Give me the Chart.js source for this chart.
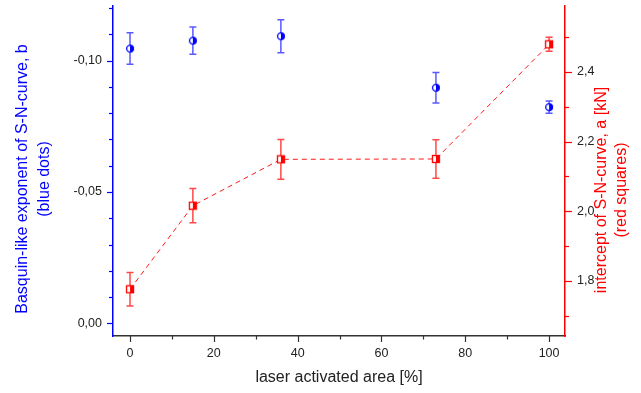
<!DOCTYPE html>
<html><head><meta charset="utf-8">
<script src="https://cdn.jsdelivr.net/npm/chart.js@4/dist/chart.umd.min.js"></script>
<style>html,body{margin:0;padding:0;background:#fff}#w{width:641px;height:393px;position:relative}</style>
</head><body><div id="w"><canvas id="c"></canvas></div>
<script>
// ---- data ----
const X = [0, 15, 36, 73, 100];
const B = [-0.1046, -0.1076, -0.1093, -0.0897, -0.0823];
const B_ERR = [0.0060, 0.0052, 0.0063, 0.0058, 0.0023];
const A = [1.776, 2.016, 2.149, 2.150, 2.479];
const A_ERR = [0.048, 0.049, 0.057, 0.055, 0.020];
const X_TICKS = [0, 20, 40, 60, 80, 100];
const X_MINOR = [10, 30, 50, 70, 90];
const L_TICKS = [-0.10, -0.05, 0.00];
const L_MINOR = [-0.12, -0.11, -0.09, -0.08, -0.07, -0.06, -0.04, -0.03, -0.02, -0.01];
const R_TICKS = [1.8, 2.0, 2.2, 2.4];
const R_MINOR = [1.7, 1.9, 2.1, 2.3, 2.5];
const X_TITLE = 'laser activated area [%]';
const L_TITLE = ['Basquin-like exponent of S-N-curve, b', '(blue dots)'];
const R_TITLE = ['intercept of S-N-curve, a [kN]', '(red squares)'];

const FONT = '"Liberation Sans", Arial, sans-serif';
const comma = v => v.replace('.', ',');

function mkCircle(){
  const c = document.createElement('canvas'); c.width = 10; c.height = 10;
  const g = c.getContext('2d');
  g.fillStyle = '#fff'; g.beginPath(); g.arc(5,5,3.4,0,Math.PI*2); g.fill();
  g.fillStyle = '#0000ff'; g.beginPath(); g.arc(5,5,3.6,-Math.PI/2,Math.PI/2); g.closePath(); g.fill();
  g.strokeStyle = '#0000ff'; g.lineWidth = 1.3; g.beginPath(); g.arc(5,5,3.4,0,Math.PI*2); g.stroke();
  return c;
}
function mkSquare(){
  const c = document.createElement('canvas'); c.width = 10; c.height = 10;
  const g = c.getContext('2d');
  g.fillStyle = '#fff'; g.fillRect(1.5,1.5,7,7);
  g.fillStyle = '#ff0000'; g.fillRect(5,1.5,3.5,7);
  g.strokeStyle = '#ff0000'; g.lineWidth = 1.3; g.strokeRect(1.5,1.5,7,7);
  return c;
}

const errPlugin = {
  id: 'err',
  beforeDatasetsDraw(chart){
    const ctx = chart.ctx, xs = chart.scales.x;
    const sets = [[chart.scales.yR, A, A_ERR, 'rgba(255,40,40,0.85)'], [chart.scales.yL, B, B_ERR, 'rgba(60,60,255,0.85)']];
    ctx.save(); ctx.lineWidth = 1.5;
    for (const [ys, vals, errs, col] of sets){
      ctx.strokeStyle = col;
      X.forEach((x,i)=>{
        const px = xs.getPixelForValue(x);
        const y1 = ys.getPixelForValue(vals[i]-errs[i]);
        const y2 = ys.getPixelForValue(vals[i]+errs[i]);
        ctx.beginPath();
        ctx.moveTo(px,y1); ctx.lineTo(px,y2);
        ctx.moveTo(px-3.5,y1); ctx.lineTo(px+3.5,y1);
        ctx.moveTo(px-3.5,y2); ctx.lineTo(px+3.5,y2);
        ctx.stroke();
      });
    }
    ctx.restore();
  }
};

const decoPlugin = {
  id: 'deco',
  afterDraw(chart){
    const ctx = chart.ctx, xs = chart.scales.x, yl = chart.scales.yL, yr = chart.scales.yR;
    const ca = chart.chartArea;
    ctx.save(); ctx.lineWidth = 1.2;
    ctx.strokeStyle = '#333';
    const tick = (x1,y1,x2,y2)=>{ctx.beginPath();ctx.moveTo(x1,y1);ctx.lineTo(x2,y2);ctx.stroke();};
    X_TICKS.forEach(v=>{const p=Math.round(xs.getPixelForValue(v))+0.5; tick(p,ca.bottom,p,ca.bottom+6);});
    X_MINOR.forEach(v=>{const p=Math.round(xs.getPixelForValue(v))+0.5; tick(p,ca.bottom,p,ca.bottom+3.5);});
    ctx.strokeStyle = '#0000ff';
    L_TICKS.forEach(v=>{const p=Math.round(yl.getPixelForValue(v))+0.5; tick(ca.left,p,ca.left-6,p);});
    L_MINOR.forEach(v=>{const p=Math.round(yl.getPixelForValue(v))+0.5; tick(ca.left,p,ca.left-4,p);});
    ctx.strokeStyle = '#ff0000';
    R_TICKS.forEach(v=>{const p=Math.round(yr.getPixelForValue(v))+0.5; tick(ca.right,p,ca.right+7,p);});
    R_MINOR.forEach(v=>{const p=Math.round(yr.getPixelForValue(v))+0.5; tick(ca.right,p,ca.right+4,p);});
    ctx.font = '16px ' + FONT;
    ctx.textAlign = 'center'; ctx.textBaseline = 'middle';
    ctx.fillStyle = '#222';
    ctx.fillText(X_TITLE, (ca.left+ca.right)/2, 378);
    ctx.fillStyle = '#0000ff';
    ctx.save(); ctx.translate(23,179); ctx.rotate(-Math.PI/2); ctx.fillText(L_TITLE[0],0,0); ctx.restore();
    ctx.save(); ctx.translate(45,179); ctx.rotate(-Math.PI/2); ctx.fillText(L_TITLE[1],0,0); ctx.restore();
    ctx.fillStyle = '#ff0000';
    ctx.save(); ctx.translate(602,190); ctx.rotate(-Math.PI/2); ctx.fillText(R_TITLE[0],0,0); ctx.restore();
    ctx.save(); ctx.translate(622,190); ctx.rotate(-Math.PI/2); ctx.fillText(R_TITLE[1],0,0); ctx.restore();
    ctx.restore();
  }
};

const noPad = s => { s.paddingTop = 0; s.paddingBottom = 0; s.paddingLeft = 0; s.paddingRight = 0; };
const tickFont = {family: FONT, size: 12.5};
new Chart(document.getElementById('c'), {
  type: 'scatter',
  data: {
    datasets: [
      {
        label: 'a', yAxisID: 'yR',
        data: X.map((x,i)=>({x, y: A[i]})),
        showLine: true, tension: 0,
        borderColor: 'rgba(255,0,0,0.9)', borderWidth: 1, borderDash: [5,4],
        pointStyle: mkSquare(), pointRadius: 5
      },
      {
        label: 'b', yAxisID: 'yL',
        data: X.map((x,i)=>({x, y: B[i]})),
        showLine: false,
        pointStyle: mkCircle(), pointRadius: 5
      }
    ]
  },
  options: {
    responsive: true, maintainAspectRatio: false, animation: false,
    layout: {padding: {top: 6, left: 0, right: 0, bottom: 0}},
    plugins: {legend: {display: false}, tooltip: {enabled: false}},
    scales: {
      x: {
        type: 'linear', position: 'bottom', min: -4.06, max: 103.8,
        afterFit: s => { s.height = 57; noPad(s); },
        afterBuildTicks: s => { s.ticks = X_TICKS.map(v=>({value: v})); },
        grid: {display: false, drawTicks: false},
        border: {display: true, color: '#333', width: 1.5},
        ticks: {font: tickFont, color: '#222', padding: 10, maxRotation: 0, callback: v => String(v)}
      },
      yL: {
        type: 'linear', position: 'left', reverse: true, min: -0.1208, max: 0.0048,
        afterFit: s => { s.width = 113; noPad(s); },
        afterBuildTicks: s => { s.ticks = L_TICKS.map(v=>({value: v})); },
        grid: {display: false, drawTicks: false},
        border: {display: true, color: '#0000ff', width: 1.5},
        ticks: {font: tickFont, color: '#222', padding: 11, callback: v => comma(v.toFixed(2))}
      },
      yR: {
        type: 'linear', position: 'right', min: 1.642, max: 2.589,
        afterFit: s => { s.width = 76; noPad(s); },
        afterBuildTicks: s => { s.ticks = R_TICKS.map(v=>({value: v})); },
        grid: {display: false, drawTicks: false},
        border: {display: true, color: '#ff0000', width: 1.5},
        ticks: {font: tickFont, color: '#222', padding: 12, callback: v => comma(v.toFixed(1))}
      }
    }
  },
  plugins: [errPlugin, decoPlugin]
});
</script>
</body></html>
